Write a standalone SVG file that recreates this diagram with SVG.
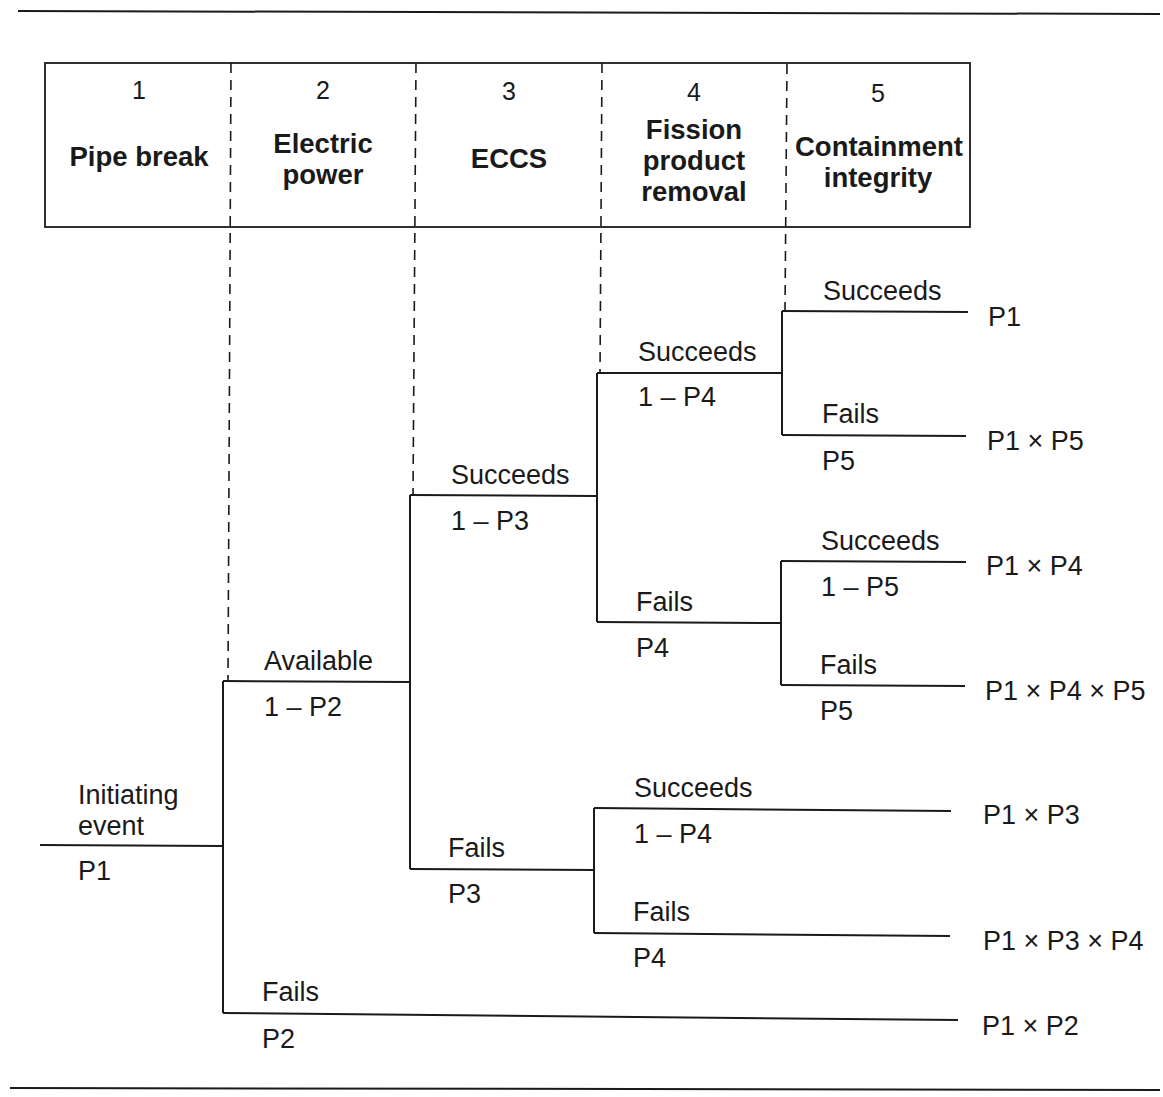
<svg xmlns="http://www.w3.org/2000/svg" width="1163" height="1097" viewBox="0 0 1163 1097">
<style>
.bg{fill:#ffffff}
.rule{stroke:#1a1a1a;stroke-width:2;fill:none}
.box{stroke:#1a1a1a;stroke-width:1.8;fill:none}
.dash{stroke:#1a1a1a;stroke-width:1.6;stroke-dasharray:10,7;fill:none}
.br{stroke:#1a1a1a;stroke-width:2;fill:none}
.num{font-family:"Liberation Sans",Arial,sans-serif;font-size:25px;fill:#1a1a1a;text-anchor:middle}
.hd{font-family:"Liberation Sans",Arial,sans-serif;font-size:27.5px;font-weight:bold;fill:#1a1a1a;text-anchor:middle}
.t{font-family:"Liberation Sans",Arial,sans-serif;font-size:27px;fill:#1a1a1a}
</style>
<rect class="bg" x="0" y="0" width="1163" height="1097"/>
<line class="rule" x1="18" y1="11" x2="1160" y2="14"/>
<line class="rule" x1="10" y1="1088" x2="1160" y2="1090"/>

<g id="header">
<rect class="box" x="45" y="63" width="925" height="164"/>
<line class="dash" x1="231" y1="63" x2="228" y2="681"/>
<line class="dash" x1="416" y1="63" x2="413" y2="495"/>
<line class="dash" x1="602" y1="63" x2="600" y2="373"/>
<line class="dash" x1="787" y1="64" x2="785" y2="311"/>
</g>
<g id="col1">
<text class="num" x="139" y="99">1</text>
<text class="hd" x="139" y="166">Pipe break</text>
</g>
<g id="col2">
<text class="num" x="323" y="99">2</text>
<text class="hd" x="323" y="153">Electric</text>
<text class="hd" x="323" y="184">power</text>
</g>
<g id="col3">
<text class="num" x="509" y="100">3</text>
<text class="hd" x="509" y="168">ECCS</text>
</g>
<g id="col4">
<text class="num" x="694" y="101">4</text>
<text class="hd" x="694" y="139">Fission</text>
<text class="hd" x="694" y="170">product</text>
<text class="hd" x="694" y="201">removal</text>
</g>
<g id="col5">
<text class="num" x="878" y="102">5</text>
<text class="hd" x="879" y="156">Containment</text>
<text class="hd" x="878" y="187">integrity</text>
</g>

<g id="connectors">
<line class="br" x1="40" y1="845" x2="223" y2="846"/>
<line class="br" x1="223" y1="681" x2="223" y2="1013"/>
<line class="br" x1="223" y1="681" x2="410" y2="682"/>
<line class="br" x1="223" y1="1013" x2="958" y2="1020"/>
<line class="br" x1="410" y1="495" x2="410" y2="869"/>
<line class="br" x1="410" y1="495" x2="597" y2="496"/>
<line class="br" x1="410" y1="869" x2="595" y2="870"/>
<line class="br" x1="597" y1="373" x2="597" y2="622"/>
<line class="br" x1="597" y1="373" x2="782" y2="373"/>
<line class="br" x1="597" y1="622" x2="781" y2="623"/>
<line class="br" x1="782" y1="311" x2="782" y2="435"/>
<line class="br" x1="782" y1="311" x2="968" y2="312"/>
<line class="br" x1="782" y1="435" x2="966" y2="436"/>
<line class="br" x1="781" y1="561" x2="781" y2="685"/>
<line class="br" x1="781" y1="561" x2="966" y2="562"/>
<line class="br" x1="781" y1="685" x2="965" y2="686"/>
<line class="br" x1="594" y1="808" x2="594" y2="933"/>
<line class="br" x1="594" y1="808" x2="951" y2="811"/>
<line class="br" x1="594" y1="933" x2="950" y2="936"/>
</g>

<g id="initiating">
<text class="t" x="78" y="804">Initiating</text>
<text class="t" x="78" y="835">event</text>
<text class="t" x="78" y="880">P1</text>
</g>
<g id="available">
<text class="t" x="264" y="670">Available</text>
<text class="t" x="264" y="716">1 – P2</text>
</g>
<g id="power-fails">
<text class="t" x="262" y="1001">Fails</text>
<text class="t" x="262" y="1048">P2</text>
</g>
<g id="eccs-succeeds">
<text class="t" x="451" y="484">Succeeds</text>
<text class="t" x="451" y="530">1 – P3</text>
</g>
<g id="eccs-fails">
<text class="t" x="448" y="857">Fails</text>
<text class="t" x="448" y="903">P3</text>
</g>
<g id="fp-succeeds-a">
<text class="t" x="638" y="361">Succeeds</text>
<text class="t" x="638" y="406">1 – P4</text>
</g>
<g id="fp-fails-a">
<text class="t" x="636" y="611">Fails</text>
<text class="t" x="636" y="657">P4</text>
</g>
<g id="ci-succeeds-a">
<text class="t" x="823" y="300">Succeeds</text>
</g>
<g id="ci-fails-a">
<text class="t" x="822" y="423">Fails</text>
<text class="t" x="822" y="470">P5</text>
</g>
<g id="ci-succeeds-b">
<text class="t" x="821" y="550">Succeeds</text>
<text class="t" x="821" y="596">1 – P5</text>
</g>
<g id="ci-fails-b">
<text class="t" x="820" y="674">Fails</text>
<text class="t" x="820" y="720">P5</text>
</g>
<g id="fp-succeeds-b">
<text class="t" x="634" y="797">Succeeds</text>
<text class="t" x="634" y="843">1 – P4</text>
</g>
<g id="fp-fails-b">
<text class="t" x="633" y="921">Fails</text>
<text class="t" x="633" y="967">P4</text>
</g>
<g id="outcomes">
<text class="t" x="988" y="326">P1</text>
<text class="t" x="987" y="450">P1 × P5</text>
<text class="t" x="986" y="575">P1 × P4</text>
<text class="t" x="985" y="700">P1 × P4 × P5</text>
<text class="t" x="983" y="824">P1 × P3</text>
<text class="t" x="983" y="950">P1 × P3 × P4</text>
<text class="t" x="982" y="1035">P1 × P2</text>
</g>
</svg>
